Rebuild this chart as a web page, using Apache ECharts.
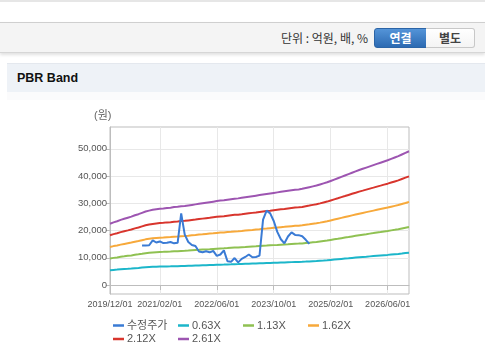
<!DOCTYPE html>
<html><head><meta charset="utf-8">
<script src="https://cdn.jsdelivr.net/npm/echarts@6/dist/echarts.min.js"></script>
<style>
body{margin:0;width:485px;height:361px;background:#fff;overflow:hidden;position:relative;font-family:"Liberation Sans","Noto Sans CJK KR",sans-serif;}
.abs{position:absolute;}
#topline{left:0;top:0;width:485px;height:2px;background:#e6e6e6;}
#bar{left:0;top:22px;width:485px;height:29px;background:#f4f4f4;border-top:1px solid #cfcfcf;border-bottom:1px solid #d6d6d6;box-shadow:0 2px 3px rgba(0,0,0,0.12);}
#unit{left:270px;top:30px;width:98px;text-align:right;font-size:12px;line-height:16px;color:#333;font-family:"Noto Sans CJK KR",sans-serif;}
#b1{left:374px;top:28px;width:51px;height:18px;background:linear-gradient(#5494d8,#2c6ab2);border:1px solid #2b64a6;border-radius:3px 0 0 3px;color:#fff;font-weight:bold;font-size:12px;line-height:18px;text-align:center;font-family:"Noto Sans CJK KR",sans-serif;}
#b2{left:426px;top:28px;width:48px;height:18px;background:linear-gradient(#ffffff,#f4f4f4);border:1px solid #c8c8c8;border-left:none;border-radius:0 3px 3px 0;color:#444;font-weight:bold;font-size:12px;line-height:18px;text-align:center;font-family:"Noto Sans CJK KR",sans-serif;}
#sec{left:7px;top:63px;width:478px;height:28px;background:#eef2f7;border-top:1px solid #e4e8ee;}
#sec span{position:absolute;left:10px;top:7px;font-size:12.5px;font-weight:bold;color:#111;}
#below{left:7px;top:92px;width:478px;height:8px;background:#fbfbfc;}
#chart{left:0;top:96px;width:485px;height:265px;}
</style></head>
<body>
<div class="abs" id="topline"></div>
<div class="abs" id="bar"></div>
<div class="abs" id="unit">단위 : 억원, 배, %</div>
<div class="abs" id="b1">연결</div>
<div class="abs" id="b2">별도</div>
<div class="abs" id="sec"><span>PBR Band</span></div>
<div class="abs" id="below"></div>
<div class="abs" id="chart"></div>
<script>
// monthly categories 2019/12 .. 2026/12
const categories = [];
for (let y = 2019, m = 12; ; ) {
  categories.push(y + '/' + String(m).padStart(2, '0') + '/01');
  if (y === 2026 && m === 12) break;
  m++; if (m > 12) { m = 1; y++; }
}
const labelIdx = [0, 14, 30, 46, 62, 78];
const yTicks = [0, 10000, 20000, 30000, 40000, 50000];

const seriesNames = ['수정주가', '0.63X', '1.13X', '1.62X', '2.12X', '2.61X'];

const price = [null,null,null,null,null,null,null,null,null,
 14500,14500,14600,16400,15600,16000,15400,15500,15800,15300,15500,
 26300,18500,15800,14700,14300,12300,12000,12400,12000,12500,
 10700,11200,12700,8700,8500,9900,8300,9600,10300,11200,
 10200,10300,10800,24000,27300,26300,23500,19500,16800,15300,
 17800,19300,18400,18300,17900,16600,15100,
 null,null,null,null,null,null,null,null,null,null,null,null,null,null,null,null,null,null,null,null,null,null,null,null,null,null,null,null];

const band063 = [5430,5550,5650,5770,5870,5960,6060,6180,6280,6400,6520,6590,6660,6710,6760,6780,6830,6860,6900,6930,
 6980,7000,7050,7100,7150,7190,7240,7290,7340,7390,7440,7480,7510,7560,7600,7650,7680,7720,7770,7820,
 7870,7920,7970,8010,8060,8110,8160,8210,8260,8300,8350,8400,8450,8470,8520,8590,8670,8740,8810,8910,
 9000,9100,9220,9340,9460,9580,9700,9820,9950,10070,10190,10300,10400,10510,10620,10730,10840,10950,11060,11180,
 11300,11420,11560,11710,11850];
const band113 = [9740,9960,10130,10350,10520,10700,10870,11080,11260,11470,11690,11820,11950,12040,12120,12170,12250,12300,12380,12430,
 12510,12560,12640,12730,12820,12900,12990,13080,13160,13250,13340,13420,13470,13550,13640,13730,13770,13860,13940,14030,
 14120,14200,14290,14380,14460,14550,14640,14720,14810,14900,14980,15070,15160,15200,15280,15410,15540,15670,15800,15980,
 16150,16320,16540,16760,16970,17190,17410,17620,17840,18060,18270,18470,18660,18860,19050,19250,19440,19640,19830,20050,
 20260,20480,20740,21000,21260];
const band162 = [13970,14280,14520,14830,15080,15330,15580,15890,16140,16450,16760,16950,17130,17260,17380,17440,17570,17630,17750,17810,
 17940,18000,18120,18250,18370,18500,18620,18750,18870,18990,19120,19240,19300,19430,19550,19680,19740,19860,19990,20110,
 20230,20360,20480,20610,20730,20860,20980,21100,21230,21350,21480,21600,21720,21790,21910,22100,22280,22470,22660,22900,
 23150,23400,23710,24020,24330,24640,24950,25260,25570,25880,26190,26470,26750,27030,27310,27590,27870,28150,28430,28740,
 29050,29360,29730,30100,30480];
const band212 = [18280,18680,19010,19410,19740,20060,20390,20790,21120,21530,21930,22180,22420,22580,22740,22830,22990,23070,23230,23310,
 23480,23560,23720,23880,24040,24210,24370,24530,24690,24860,25020,25180,25260,25430,25590,25750,25830,25990,26160,26320,
 26480,26640,26810,26970,27130,27290,27460,27620,27780,27940,28110,28270,28430,28510,28670,28920,29160,29410,29650,29970,
 30300,30620,31030,31440,31840,32250,32650,33060,33470,33870,34280,34640,35010,35380,35740,36110,36470,36840,37200,37610,
 38020,38420,38910,39400,39880];
const band261 = [22500,23000,23400,23900,24300,24700,25100,25600,26000,26500,27000,27300,27600,27800,28000,28100,28300,28400,28600,28700,
 28900,29000,29200,29400,29600,29800,30000,30200,30400,30600,30800,31000,31100,31300,31500,31700,31800,32000,32200,32400,
 32600,32800,33000,33200,33400,33600,33800,34000,34200,34400,34600,34800,35000,35100,35300,35600,35900,36200,36500,36900,
 37300,37700,38200,38700,39200,39700,40200,40700,41200,41700,42200,42650,43100,43550,44000,44450,44900,45350,45800,46300,
 46800,47300,47900,48500,49100];

const seriesData = [price, band063, band113, band162, band212, band261];
const colors = ['#3a7bd5', '#1cb6ca', '#8fc152', '#f7a93b', '#d8352d', '#9d55b1'];

const chart = echarts.init(document.getElementById('chart'), null, {renderer: 'canvas'});
const FONT = '"Liberation Sans","Noto Sans CJK KR",sans-serif';
const showIdx = (i) => labelIdx.indexOf(i) >= 0;

const legendPos = [[113, 224], [178, 224], [243, 224], [308, 224], [113, 237.5], [178, 237.5]];
const legends = seriesNames.map((n, k) => ({
  data: [n], left: legendPos[k][0], top: legendPos[k][1], padding: 0,
  icon: 'rect', itemWidth: 11, itemHeight: 2.5, itemGap: 0,
  textStyle: {fontSize: 11, color: '#555', fontFamily: FONT, padding: [0, 0, 0, -2]},
  selectedMode: false
}));

chart.setOption({
  animation: false,
  color: colors,
  grid: {left: 110, right: 76, top: 31, bottom: 67, show: true, borderColor: '#bdbdbd', borderWidth: 1, containLabel: false},
  legend: legends,
  graphic: [{type: 'text', left: 94, top: 14, style: {text: '(원)', font: '11px ' + FONT, fill: '#666'}}],
  xAxis: {
    type: 'category', data: categories, boundaryGap: false,
    axisLine: {show: true, lineStyle: {color: '#bdbdbd'}},
    axisTick: {show: true, interval: (i) => showIdx(i), length: 5, lineStyle: {color: '#bdbdbd'}},
    axisLabel: {interval: (i) => showIdx(i), fontSize: 9, color: '#555', margin: 6, fontFamily: FONT},
    splitLine: {show: true, interval: (i) => showIdx(i), lineStyle: {color: '#e8e8e8'}}
  },
  yAxis: {
    type: 'value', min: -3300, max: 58000,
    axisLine: {show: true, lineStyle: {color: '#bdbdbd'}},
    axisTick: {show: true, length: 4, lineStyle: {color: '#bdbdbd'}, customValues: yTicks},
    axisLabel: {fontSize: 9.5, color: '#555', margin: 3, fontFamily: FONT, customValues: yTicks,
      formatter: (v) => (yTicks.indexOf(v) >= 0 ? v.toLocaleString('en-US') : '')},
    splitLine: {show: true, lineStyle: {color: '#e8e8e8'}}
  },
  series: seriesNames.map((n, k) => ({
    name: n, type: 'line', data: seriesData[k], showSymbol: false, symbol: 'none',
    connectNulls: false, z: k === 0 ? 10 : 5,
    lineStyle: {width: 2, color: colors[k]}, itemStyle: {color: colors[k]}
  }))
});
</script>
</body></html>
